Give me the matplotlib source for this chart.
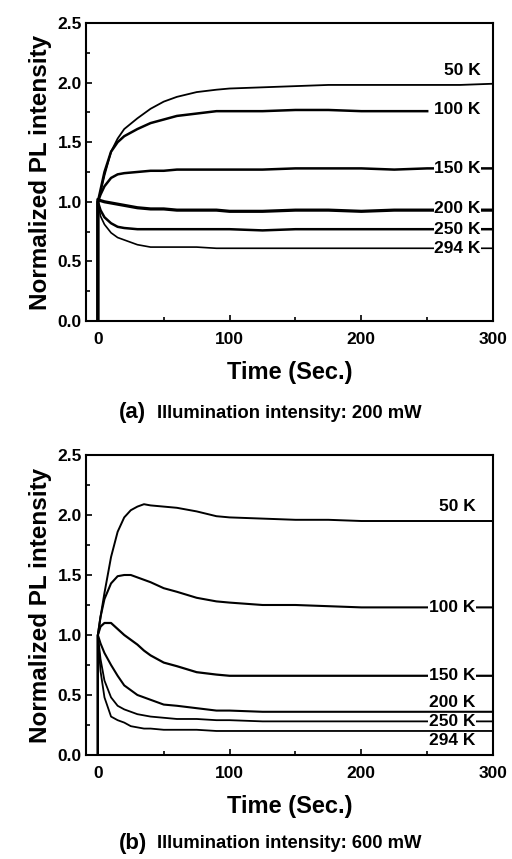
import matplotlib
matplotlib.use("Agg")
import matplotlib.pyplot as plt
from matplotlib.ticker import MultipleLocator, FormatStrFormatter

plt.rcParams['font.family'] = ['Liberation Sans', 'DejaVu Sans']
plt.rcParams['font.weight'] = 'bold'

# ---------------- data: panel (a) 200 mW ----------------
t_a = [0, 0, 2, 5, 10, 15, 20, 30, 40, 50, 60, 75, 90, 100, 125, 150, 175, 200, 225, 250, 275, 300]
a_50 = [0, 1.0, 1.08, 1.22, 1.42, 1.53, 1.61, 1.70, 1.78, 1.84, 1.88, 1.92, 1.94, 1.95, 1.96, 1.97, 1.98, 1.98, 1.98, 1.98, 1.98, 1.99]
t_a100 = t_a[:20]
a_100 = [0, 1.0, 1.10, 1.25, 1.42, 1.50, 1.55, 1.61, 1.66, 1.69, 1.72, 1.74, 1.76, 1.76, 1.76, 1.77, 1.77, 1.76, 1.76, 1.76]
a_150 = [0, 1.0, 1.06, 1.13, 1.20, 1.23, 1.24, 1.25, 1.26, 1.26, 1.27, 1.27, 1.27, 1.27, 1.27, 1.28, 1.28, 1.28, 1.27, 1.28, 1.28, 1.28]
a_200 = [0, 1.02, 1.01, 1.00, 0.99, 0.98, 0.97, 0.95, 0.94, 0.94, 0.93, 0.93, 0.93, 0.92, 0.92, 0.93, 0.93, 0.92, 0.93, 0.93, 0.93, 0.93]
a_250 = [0, 1.0, 0.93, 0.87, 0.82, 0.79, 0.78, 0.77, 0.77, 0.77, 0.77, 0.77, 0.77, 0.77, 0.76, 0.77, 0.77, 0.77, 0.77, 0.77, 0.77, 0.77]
a_294 = [0, 1.0, 0.88, 0.81, 0.74, 0.70, 0.68, 0.64, 0.62, 0.62, 0.62, 0.62, 0.61, 0.61, 0.61, 0.61, 0.61, 0.61, 0.61, 0.61, 0.61, 0.61]

# ---------------- data: panel (b) 600 mW ----------------
t_b = [0, 0, 2, 5, 10, 15, 20, 25, 30, 35, 40, 50, 60, 75, 90, 100, 125, 150, 175, 200, 225, 250, 275, 300]
b_50 = [0, 1.0, 1.15, 1.35, 1.65, 1.86, 1.98, 2.04, 2.07, 2.09, 2.08, 2.07, 2.06, 2.03, 1.99, 1.98, 1.97, 1.96, 1.96, 1.95, 1.95, 1.95, 1.95, 1.95]
b_100 = [0, 1.0, 1.15, 1.30, 1.43, 1.49, 1.50, 1.50, 1.48, 1.46, 1.44, 1.39, 1.36, 1.31, 1.28, 1.27, 1.25, 1.25, 1.24, 1.23, 1.23, 1.23, 1.23, 1.23]
b_150 = [0, 1.0, 1.07, 1.10, 1.10, 1.05, 1.00, 0.96, 0.92, 0.87, 0.83, 0.77, 0.74, 0.69, 0.67, 0.66, 0.66, 0.66, 0.66, 0.66, 0.66, 0.66, 0.66, 0.66]
b_200 = [0, 1.0, 0.93, 0.85, 0.75, 0.66, 0.58, 0.54, 0.50, 0.48, 0.46, 0.42, 0.41, 0.39, 0.37, 0.37, 0.36, 0.36, 0.36, 0.36, 0.36, 0.36, 0.36, 0.36]
b_250 = [0, 1.0, 0.80, 0.62, 0.48, 0.41, 0.38, 0.36, 0.34, 0.33, 0.32, 0.31, 0.30, 0.30, 0.29, 0.29, 0.28, 0.28, 0.28, 0.28, 0.28, 0.28, 0.28, 0.28]
b_294 = [0, 1.0, 0.70, 0.48, 0.32, 0.29, 0.27, 0.24, 0.23, 0.22, 0.22, 0.21, 0.21, 0.21, 0.20, 0.20, 0.20, 0.20, 0.20, 0.20, 0.20, 0.20, 0.20, 0.20]

labels = ['50 K', '100 K', '150 K', '200 K', '250 K', '294 K']
lab_a_pos = [(277, 2.10), (273, 1.77), (273, 1.28), (273, 0.94), (273, 0.77), (273, 0.61)]
lab_b_pos = [(273, 2.07), (269, 1.23), (269, 0.66), (269, 0.44), (269, 0.28), (269, 0.12)]

series_a = [(t_a, a_50, 1.3), (t_a100, a_100, 1.8), (t_a, a_150, 1.8),
            (t_a, a_200, 2.3), (t_a, a_250, 1.8), (t_a, a_294, 1.2)]
series_b = [(t_b, b_50, 1.4), (t_b, b_100, 1.5), (t_b, b_150, 1.6),
            (t_b, b_200, 1.5), (t_b, b_250, 1.3), (t_b, b_294, 1.3)]

fig = plt.figure(figsize=(5.12, 8.59), dpi=100)
ax1 = fig.add_axes([0.168, 0.6263, 0.795, 0.347])
ax2 = fig.add_axes([0.168, 0.1211, 0.795, 0.3492])


def style(ax):
    ax.set_xlim(-9, 300)
    ax.set_ylim(0, 2.5)
    ax.xaxis.set_major_locator(MultipleLocator(100))
    ax.xaxis.set_minor_locator(MultipleLocator(50))
    ax.yaxis.set_major_locator(MultipleLocator(0.5))
    ax.yaxis.set_minor_locator(MultipleLocator(0.25))
    ax.yaxis.set_major_formatter(FormatStrFormatter('%.1f'))
    ax.tick_params(which='both', direction='in', width=1.2, labelsize=12.5)
    ax.tick_params(axis='x', which='major', length=4, pad=8)
    ax.tick_params(axis='y', which='major', length=4, pad=3)
    ax.tick_params(which='minor', length=3)
    for s in ax.spines.values():
        s.set_linewidth(1.5)
    for lab in ax.get_xticklabels() + ax.get_yticklabels():
        lab.set_fontweight('bold')
    ax.set_xlabel('Time (Sec.)', fontsize=17, fontweight='bold', labelpad=10)
    ax.set_ylabel('Normalized PL intensity', fontsize=17.5, fontweight='bold', labelpad=4)


for ax, series, pos in [(ax1, series_a, lab_a_pos), (ax2, series_b, lab_b_pos)]:
    for (t, y, lw) in series:
        ax.plot(t, y, color='black', lw=lw)
    for lab, (x, y) in zip(labels, pos):
        ax.text(x, y, lab, ha='center', va='center', fontsize=12.5, fontweight='bold',
                bbox=dict(facecolor='white', edgecolor='none', pad=0.5), zorder=5)
    style(ax)

fig.text(0.232, 1 - 412 / 859, '(a)', fontsize=16, fontweight='bold', va='center')
fig.text(0.306, 1 - 413 / 859, 'Illumination intensity: 200 mW', fontsize=13.3, fontweight='bold', va='center')
fig.text(0.232, 1 - 843 / 859, '(b)', fontsize=16, fontweight='bold', va='center')
fig.text(0.306, 1 - 844 / 859, 'Illumination intensity: 600 mW', fontsize=13.3, fontweight='bold', va='center')

fig.savefig('out.png', dpi=100)
